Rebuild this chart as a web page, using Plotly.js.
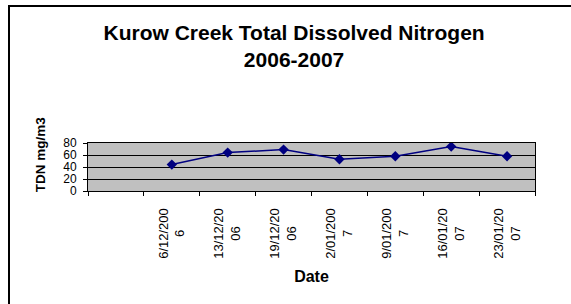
<!DOCTYPE html>
<html>
<head>
<meta charset="utf-8">
<script src="https://cdn.plot.ly/plotly-3.0.1.min.js"></script>
<style>
html,body{margin:0;padding:0;background:#fff;}
#wrap{position:relative;width:571px;height:304px;overflow:hidden;}
#frame{position:absolute;left:8px;top:5px;width:600px;height:400px;border-left:2px solid #000;border-top:2px solid #000;pointer-events:none;}
#chart{position:absolute;left:0;top:0;width:571px;height:304px;}
</style>
</head>
<body>
<div id="wrap">
<div id="chart"></div>
<div id="frame"></div>
</div>
<script>
const categories = ["", "6/12/2006", "13/12/2006", "19/12/2006", "2/01/2007", "9/01/2007", "16/01/2007", "23/01/2007"];
const tickLabelLine1 = ["", "6/12/200", "13/12/20", "19/12/20", "2/01/200", "9/01/200", "16/01/20", "23/01/20"];
const tickLabelLine2 = ["", "6", "06", "06", "7", "7", "07", "07"];
const tdnValues = [null, 44, 64, 69, 53, 58, 74, 58];
const yTicks = [0, 20, 40, 60, 80];

const font = "Liberation Sans, Arial, sans-serif";
const NB = "\u00A0";

// centre the short second line under the first (labels are end-anchored when rotated)
const tickLabels = tickLabelLine1.map(function (l1, i) {
  const l2 = tickLabelLine2[i];
  if (!l1) return "";
  const pad = l2.length === 1 ? 6 : 5;
  return l1 + "<br>" + l2 + NB.repeat(pad);
});

const trace = {
  x: categories,
  y: tdnValues,
  type: "scatter",
  mode: "lines+markers",
  line: {color: "#000080", width: 1.5},
  marker: {symbol: "diamond", size: 8, color: "#000080"},
  connectgaps: false,
  showlegend: false,
  hoverinfo: "x+y"
};

const layout = {
  width: 571,
  height: 304,
  margin: {l: 88, r: 36, t: 143, b: 113, pad: 0},
  paper_bgcolor: "rgba(0,0,0,0)",
  plot_bgcolor: "#c0c0c0",
  font: {family: font, size: 13, color: "#000"},
  title: {
    text: "<b>Kurow Creek Total Dissolved Nitrogen<br>2006-2007</b>",
    font: {family: font, size: 21, color: "#000"},
    x: 0.515, xanchor: "center",
    y: 0.87, yanchor: "middle"
  },
  xaxis: {
    type: "category",
    categoryorder: "array",
    categoryarray: categories,
    tickvals: categories,
    ticktext: tickLabels,
    tickangle: -90,
    tickson: "boundaries",
    ticks: "outside",
    ticklen: 4,
    tickcolor: "#000",
    ticklabelstandoff: 11,
    showline: true,
    linecolor: "#000",
    linewidth: 1,
    mirror: true,
    showgrid: false,
    zeroline: false,
    range: [-0.5, 7.5],
    tickfont: {family: font, size: 13, color: "#000"},
    title: {text: "<b>Date</b>", font: {family: font, size: 16, color: "#000"}, standoff: 12}
  },
  yaxis: {
    range: [0, 80],
    tickvals: yTicks,
    ticks: "outside",
    ticklen: 4,
    tickcolor: "#000",
    ticklabelstandoff: 4,
    showline: true,
    linecolor: "#000",
    linewidth: 1,
    mirror: true,
    showgrid: true,
    gridcolor: "#000",
    gridwidth: 1,
    zeroline: false,
    tickfont: {family: font, size: 12, color: "#000"}
  },
  annotations: [{
    text: "<b>TDN mg/m3</b>",
    xref: "paper", yref: "paper",
    x: -0.107, y: 0.77,
    xanchor: "center", yanchor: "middle",
    textangle: -90,
    showarrow: false,
    font: {family: font, size: 13.5, color: "#000"}
  }]
};

Plotly.newPlot("chart", [trace], layout, {staticPlot: true, displayModeBar: false});
</script>
</body>
</html>
